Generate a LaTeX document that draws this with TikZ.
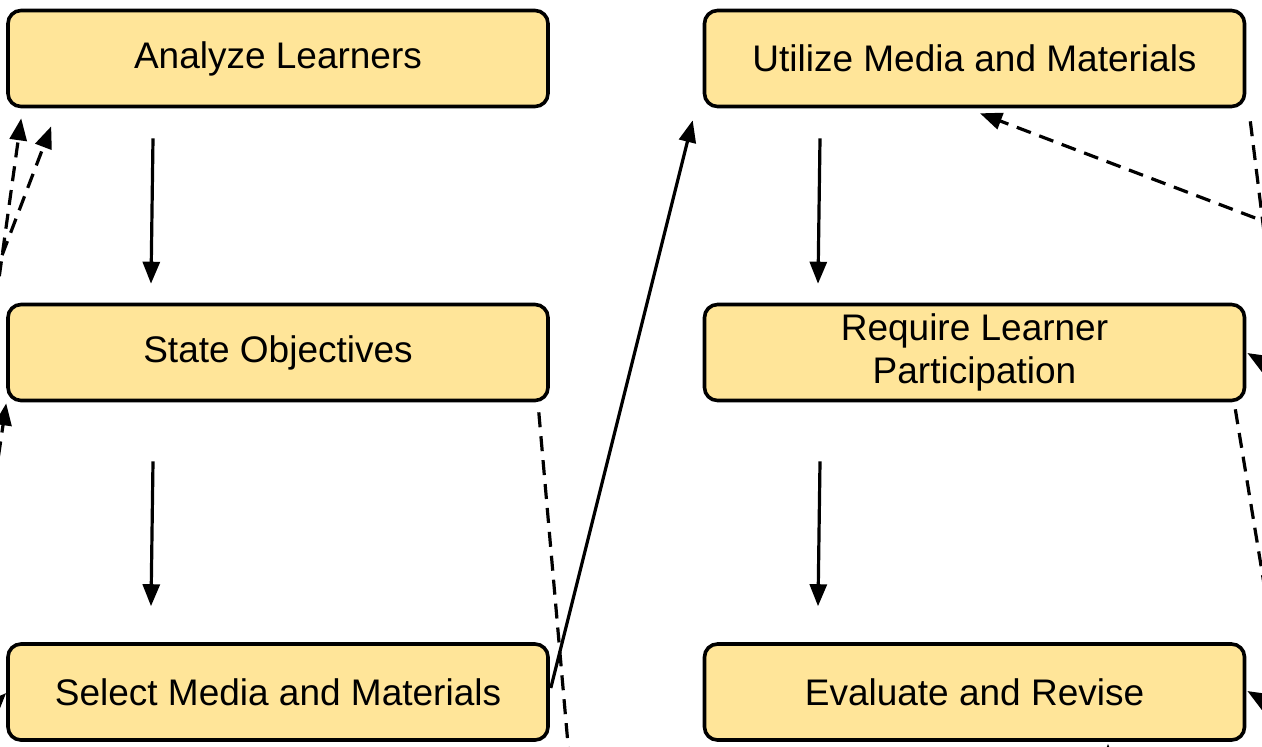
\documentclass[tikz,border=0pt]{standalone}
\usepackage{fontspec}
\setmainfont{Liberation Sans}
\usetikzlibrary{calc,arrows.meta}
\definecolor{stagefill}{HTML}{FFE599}
\tikzset{
  stage/.style={draw=black, line width=1.8pt, fill=stagefill, rounded corners=6.5pt,
    minimum width=270pt, minimum height=48pt, inner sep=0pt, align=center,
    font=\fontsize{18.5}{21.5}\selectfont},
  flow/.style={line width=1.6pt, -{Triangle[length=11pt,width=8.5pt]}},
  feedback/.style={flow, dash pattern=on 7.5pt off 4.5pt},
  loose/.style={line width=1.6pt, dash pattern=on 7.5pt off 4.5pt}
}

\begin{document}
\begin{tikzpicture}[x=0.5pt, y=-0.5pt]
		%%%%% FRAME %%%%%
		\useasboundingbox (0,0) rectangle (1262,746);
		\clip (0,0) rectangle (1262,746);
		
		%%%%% STAGES %%%%%
		\node[stage] (analyze) at (278,58.5) {Analyze Learners};
		\node[stage] (state) at (278,352.5) {State Objectives};
		\node[stage] (select) at (278,692) {Select Media and Materials};
		
		\node[stage] (utilize) at (974.5,58.5) {Utilize Media and Materials};
		\node[stage] (require) at (974.5,352.5) {Require Learner\\Participation};
		\node[stage] (evaluate) at (974.5,692) {Evaluate and Revise};
		
		%%%%% FREE ENDS %%%%%
		\coordinate (inA) at (-4,300);
		\coordinate (inB) at (-15,300);
		\coordinate (inS) at (-5,480);
		\coordinate (inM) at (-30,730);
		\coordinate (inU) at (1300,235);
		\coordinate (outU) at (1265,240);
		\coordinate (inR) at (1290,378);
		\coordinate (outR) at (1265,590);
		\coordinate (inE) at (1290,716);
		\coordinate (inEb) at (1108,800);
		\coordinate (outS) at (572,790);
		
		%%%%% MAIN FLOW %%%%%
		\draw[flow] ($(analyze.south)+(-125,30)$) -- ($(state.north)+(-127,-19)$);
		\draw[flow] ($(state.south)+(-125,59)$) -- ($(select.north)+(-127,-36)$);
		\draw[flow] ($(select.east)+(1,-4)$) -- ($(utilize.south west)+(-10,12)$);
		\draw[flow] ($(utilize.south)+(-154.5,30)$) -- ($(require.north)+(-156.5,-19)$);
		\draw[flow] ($(require.south)+(-154.5,59)$) -- ($(evaluate.north)+(-156.5,-36)$);
		
		%%%%% FEEDBACK %%%%%
		\draw[feedback] (inA) -- ($(analyze.south west)+(15,10)$);
		\draw[feedback] (inB) -- ($(analyze.south west)+(45,18)$);
		\draw[feedback] (inS) -- ($(state.south west)+(0,1)$);
		\draw[feedback] (inM) -- ($(select.west)+(0,1)$);
		\draw[loose] ($(state.south east)+(-11,10)$) -- (outS);
		
		\draw[feedback] (inU) -- ($(utilize.south)+(5.5,5)$);
		\draw[loose] ($(utilize.south east)+(4,13)$) -- (outU);
		\draw[feedback] (inR) -- ($(require.east)+(1,0.5)$);
		\draw[loose] ($(require.south east)+(-11,7)$) -- (outR);
		\draw[feedback] (inE) -- ($(evaluate.east)+(1,-1)$);
		\draw[flow] (inEb) -- ($(evaluate.south)+(133.5,2)$);
		
		%%%%% END %%%%%
	\end{tikzpicture}
\end{document}
